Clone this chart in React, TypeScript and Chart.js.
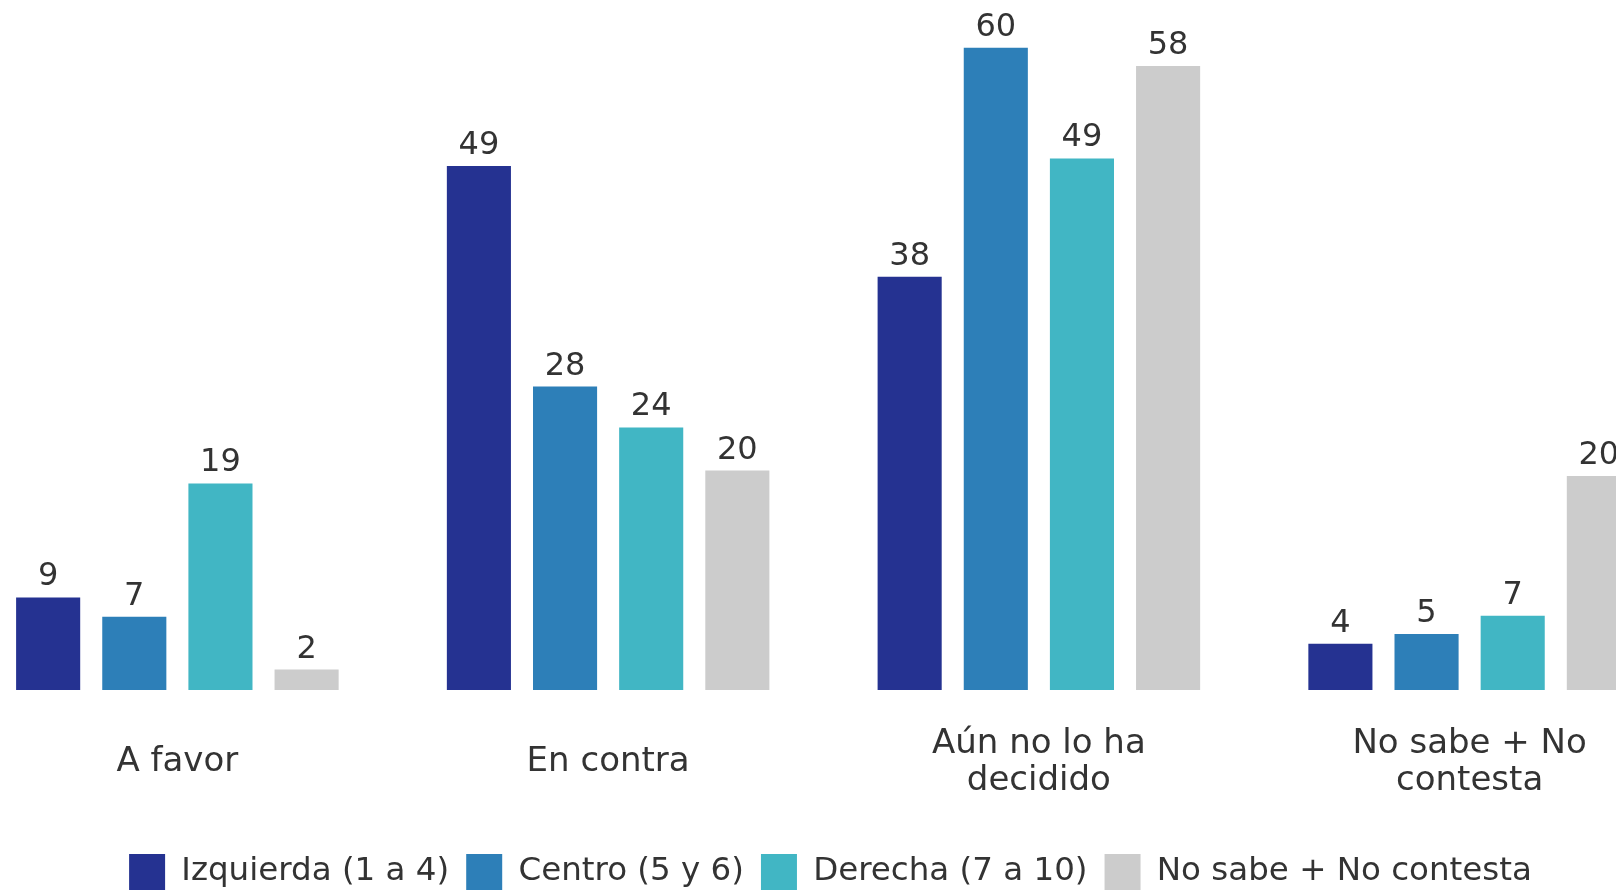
import React, { useEffect, useRef } from 'react';
import { Chart, registerables } from 'chart.js';

Chart.register(...registerables);

const categories: string[][] = [['A favor'], ['En contra'], ['Aún no lo ha', 'decidido'], ['No sabe + No', 'contesta']];
const seriesNames = ['Izquierda (1 a 4)', 'Centro (5 y 6)', 'Derecha (7 a 10)', 'No sabe + No contesta'];
// Labels show the rounded values
const izquierda = [8.6, 48.7, 38.4, 4.3];
const centro = [6.8, 28.2, 59.7, 5.2];
const derecha = [19.2, 24.4, 49.4, 6.9];
const noSabe = [1.9, 20.4, 58.0, 19.9];
const seriesColors = ['#253291', '#2d7fb8', '#41b6c4', '#cccccc'];

const FONT = '"DejaVu Sans", sans-serif';
const TEXT = '#333333';

const valueLabels = {
  id: 'valueLabels',
  afterLayout(chart: any) {
    if (chart.legend) {
      chart.legend.left += 7;
      chart.legend.right += 7;
    }
  },
  afterDatasetsDraw(chart: any) {
    const ctx = chart.ctx;
    ctx.save();
    ctx.font = `32px ${FONT}`;
    ctx.fillStyle = TEXT;
    ctx.textAlign = 'center';
    ctx.textBaseline = 'alphabetic';
    chart.data.datasets.forEach((ds: any, i: number) => {
      const meta = chart.getDatasetMeta(i);
      meta.data.forEach((bar: any, j: number) => {
        ctx.fillText(String(Math.round(ds.data[j])), bar.x, bar.y - 12);
      });
    });
    ctx.restore();
  },
};

export default function App() {
  const ref = useRef<HTMLCanvasElement | null>(null);

  useEffect(() => {
    if (!ref.current) return;
    const allSeries = [izquierda, centro, derecha, noSabe];
    const chart = new Chart(ref.current, {
      type: 'bar',
      data: {
        labels: categories,
        datasets: allSeries.map((d, i) => ({
          label: seriesNames[i],
          data: d,
          backgroundColor: seriesColors[i],
          borderWidth: 0,
          categoryPercentage: 0.8,
          barPercentage: 0.744,
        })),
      },
      options: {
        animation: false,
        responsive: false,
        devicePixelRatio: 1,
        layout: { padding: { left: 12, right: 25, top: 0, bottom: 0 } },
        plugins: {
          tooltip: { enabled: false },
          legend: {
            position: 'bottom',
            labels: {
              font: { family: FONT, size: 32.5 },
              color: TEXT,
              boxWidth: 36,
              boxHeight: 36,
              padding: 17,
            },
          },
        },
        scales: {
          x: {
            grid: { display: false, drawTicks: false },
            border: { display: false },
            ticks: {
              font: { family: FONT, size: 34, lineHeight: '37px' },
              color: TEXT,
              padding: 54,
              maxRotation: 0,
              autoSkip: false,
              crossAlign: 'center',
            },
            afterFit: (scale: any) => {
              scale.height = 147;
            },
          },
          y: {
            display: false,
            min: 0,
            max: 64.13,
          },
        },
      },
      plugins: [valueLabels],
    } as any);
    return () => chart.destroy();
  }, []);

  return (
    <div style={{ position: 'fixed', left: 0, top: 0, width: 1616, height: 891, overflow: 'hidden', background: '#fff' }}>
      <canvas
        ref={ref}
        width={1760}
        height={900}
        style={{ position: 'absolute', left: -50, top: 0, width: 1760, height: 900 }}
      />
    </div>
  );
}
